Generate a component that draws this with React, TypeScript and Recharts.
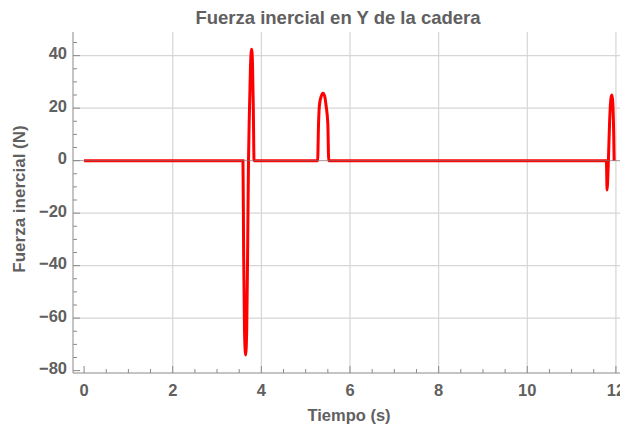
import React from 'react';
import { LineChart, Line, XAxis, YAxis, ReferenceLine } from 'recharts';

// valores
const tiempo = [
  0, 3.585, 3.6, 3.62, 3.645, 3.67, 3.69, 3.71, 3.73, 3.755, 3.78, 3.8, 3.82, 3.835,
  5.27, 5.29, 5.31, 5.35, 5.39, 5.43, 5.46, 5.5, 5.52,
  11.785, 11.8, 11.83, 11.86, 11.89, 11.91, 11.93, 11.95, 11.96,
];
const fuerza = [
  0, 0, -35, -65, -74, -64, -35, 0, 18, 36, 42.4, 37, 18, 0,
  0, 14, 21, 24.5, 25.7, 24.5, 21, 14, 0,
  0, -11.2, 0, 16, 24, 25, 22, 10, 0,
];

const xTicks = [0, 0.5, 1, 1.5, 2, 2.5, 3, 3.5, 4, 4.5, 5, 5.5, 6, 6.5, 7, 7.5, 8, 8.5, 9, 9.5, 10, 10.5, 11, 11.5, 12];
const xLabels = [0, 2, 4, 6, 8, 10, 12];
const yTicks = [-80, -75, -70, -65, -60, -55, -50, -45, -40, -35, -30, -25, -20, -15, -10, -5, 0, 5, 10, 15, 20, 25, 30, 35, 40, 45];
const yLabels = [-80, -60, -40, -20, 0, 20, 40];
const xGrid = [2, 4, 6, 8, 10, 12];
const yGrid = [-60, -40, -20, 20, 40];

const data = tiempo.map((t, i) => ({ t, f: fuerza[i] }));

const textColor = '#606060';
const frameColor = '#8a8a8a';
const gridColor = '#d6d6d6';
const font = '"Liberation Sans", Arial, sans-serif';

const fmt = (v: number) => (v < 0 ? `\u2212${Math.abs(v)}` : `${v}`);

const LeftTick = ({ x, y, payload }: any) => {
  const major = yLabels.includes(payload.value);
  return (
    <g>
      <line x1={x} x2={x + (major ? 7 : 4)} y1={y} y2={y} stroke={frameColor} />
      {major && (
        <text x={x - 6} y={y + 3.5} textAnchor="end" fill={textColor} fontSize={16.5} fontWeight="bold" fontFamily={font}>
          {fmt(payload.value)}
        </text>
      )}
    </g>
  );
};

const BottomTick = ({ x, y, payload }: any) => {
  const major = xLabels.includes(payload.value);
  return (
    <g>
      <line x1={x} x2={x} y1={y} y2={y - (major ? 7 : 4)} stroke={frameColor} />
      {major && (
        <text x={x} y={y + 23} textAnchor="middle" fill={textColor} fontSize={16.5} fontWeight="bold" fontFamily={font}>
          {payload.value}
        </text>
      )}
    </g>
  );
};

const TopTick = ({ x, y, payload }: any) => {
  const major = xLabels.includes(payload.value);
  return <line x1={x} x2={x} y1={y} y2={y + (major ? 7 : 4)} stroke={frameColor} />;
};

export default function App() {
  return (
    <div style={{ position: 'absolute', left: 0, top: 0, width: 620, height: 428, overflow: 'hidden', background: '#fff' }}>
      <LineChart width={630} height={428} data={data} margin={{ top: 32, right: 3, left: 13, bottom: 0 }}>
        <XAxis
          dataKey="t"
          type="number"
          domain={[-0.25, 12.25]}
          ticks={xTicks}
          interval={0}
          allowDataOverflow
          height={55}
          tickSize={0}
          tickMargin={0}
          tickLine={false}
          stroke={frameColor}
          tick={<BottomTick />}
        />
        <XAxis
          xAxisId="top"
          orientation="top"
          dataKey="t"
          type="number"
          domain={[-0.25, 12.25]}
          ticks={xTicks}
          interval={0}
          allowDataOverflow
          height={0}
          tickSize={0}
          tickMargin={0}
          tickLine={false}
          stroke={frameColor}
          tick={<TopTick />}
        />
        <YAxis
          type="number"
          domain={[-80.9, 49]}
          ticks={yTicks}
          interval={0}
          allowDataOverflow
          width={60}
          tickSize={0}
          tickMargin={0}
          tickLine={false}
          stroke={frameColor}
          tick={<LeftTick />}
        />
        {xGrid.map((v) => (
          <ReferenceLine key={`x${v}`} x={v} stroke={gridColor} strokeWidth={1.2} />
        ))}
        {yGrid.map((v) => (
          <ReferenceLine key={`y${v}`} y={v} stroke={gridColor} strokeWidth={1.2} />
        ))}
        <Line
          type="monotone"
          dataKey="f"
          stroke="#ff0000"
          strokeWidth={3}
          dot={false}
          isAnimationActive={false}
        />
        <ReferenceLine y={0} stroke="#8a6a6a" strokeWidth={1} strokeOpacity={0.7} />
      </LineChart>
      <svg width={620} height={428} style={{ position: 'absolute', left: 0, top: 0, pointerEvents: 'none' }}>
        <text x={338} y={24} textAnchor="middle" fill={textColor} fontSize={18.5} fontWeight="bold" fontFamily={font}>
          Fuerza inercial en Y de la cadera
        </text>
        <text x={349} y={421} textAnchor="middle" fill={textColor} fontSize={16.5} fontWeight="bold" fontFamily={font}>
          Tiempo (s)
        </text>
        <text
          x={25}
          y={199}
          transform="rotate(-90, 25, 199)"
          textAnchor="middle"
          fill={textColor}
          fontSize={17}
          fontWeight="bold"
          fontFamily={font}
        >
          Fuerza inercial (N)
        </text>
      </svg>
    </div>
  );
}
